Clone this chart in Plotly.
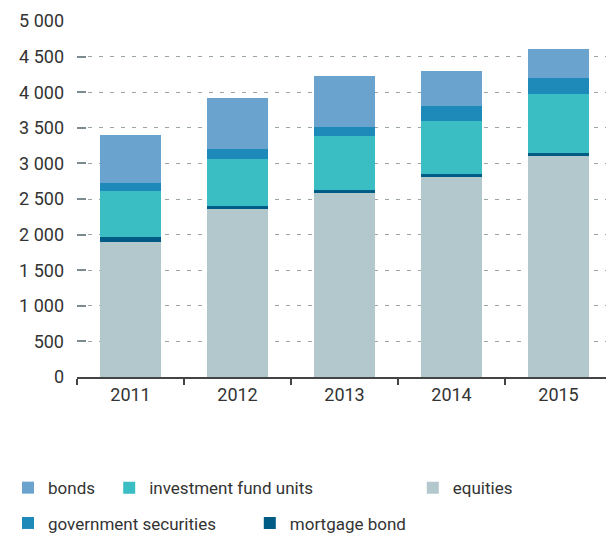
import plotly.graph_objects as go

# values, in millions (stack order bottom -> top)
years = ["2011", "2012", "2013", "2014", "2015"]
equities = [1900, 2360, 2585, 2813, 3108]
mortgage_bond = [67, 44, 43, 42, 43]
investment_fund_units = [648, 662, 752, 746, 830]
government_securities = [113, 141, 137, 211, 212]
bonds = [676, 718, 704, 479, 408]

y_ticks = [0, 500, 1000, 1500, 2000, 2500, 3000, 3500, 4000, 4500, 5000]

colors = {
    "equities": "#b3c8cd",
    "mortgage bond": "#005b85",
    "investment fund units": "#3bbec3",
    "government securities": "#1d8ab9",
    "bonds": "#6ba3cf",
}

FONT = "Roboto"
TXT = "#333333"

# each legend entry gets its own little legend box so they sit where the original has them
series = [
    ("equities", equities, "legend3", 3),
    ("mortgage bond", mortgage_bond, "legend5", 5),
    ("investment fund units", investment_fund_units, "legend2", 2),
    ("government securities", government_securities, "legend4", 4),
    ("bonds", bonds, "legend", 1),
]

fig = go.Figure()
for name, vals, leg, rank in series:
    fig.add_trace(go.Bar(
        x=years, y=vals, name=name,
        marker=dict(color=colors[name], line=dict(width=0)),
        legend=leg, legendrank=rank,
    ))

leg_font = dict(family=FONT, size=17, color=TXT)


def leg_box(x, y):
    # container coords so the boxes don't push the plot margins around
    return dict(x=x, y=y, xref="container", yref="container",
                xanchor="left", yanchor="middle", orientation="h",
                font=leg_font, bgcolor="rgba(0,0,0,0)", borderwidth=0)


# the page body has an 8px margin, so the figure is 8px smaller each way
fig.update_layout(
    width=606, height=527,
    margin=dict(l=69, r=2, t=13, b=158, autoexpand=False),
    paper_bgcolor="white", plot_bgcolor="white",
    barmode="stack", bargap=0.43,
    separators=". ",
    showlegend=True,
    font=dict(family=FONT, size=17, color=TXT),
    xaxis=dict(
        type="category",
        showline=True, linecolor="#444444", linewidth=2,
        ticks="outside", tickson="boundaries", ticklen=6, tickwidth=2, tickcolor="#444444",
        tickfont=dict(family=FONT, size=18, color=TXT),
        showgrid=False,
    ),
    yaxis=dict(
        range=[0, 5000],
        tickvals=y_ticks, tickformat=",d",
        ticks="inside", ticklen=9, tickwidth=2, tickcolor="#7d8a8f",
        showgrid=True, gridcolor="#9aa5a8", griddash="4px,7px", gridwidth=1,
        zeroline=False, showline=False,
        tickfont=dict(family=FONT, size=18, color=TXT),
        ticklabelstandoff=12,
    ),
    legend=leg_box(-0.015, 0.089),
    legend2=leg_box(0.167, 0.089),
    legend3=leg_box(0.668, 0.089),
    legend4=leg_box(-0.015, 0.022),
    legend5=leg_box(0.399, 0.022),
)

fig.write_html("out.html")
